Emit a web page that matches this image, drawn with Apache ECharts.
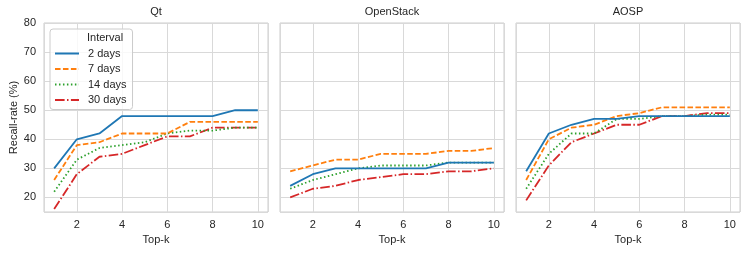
<!DOCTYPE html>
<html>
<head>
<meta charset="utf-8">
<script src="https://cdn.jsdelivr.net/npm/echarts@6/dist/echarts.min.js"></script>
<style>
html,body{margin:0;padding:0;background:#fff;}
#chart{width:748px;height:254px;}
</style>
</head>
<body>
<div id="chart"></div>
<script>
// ---- data ----
const topK = [1, 2, 3, 4, 5, 6, 7, 8, 9, 10];
const projects = ['Qt', 'OpenStack', 'AOSP'];
const intervals = ['2 days', '7 days', '14 days', '30 days'];

const qt2  = [30, 40, 42, 48, 48, 48, 48, 48, 50, 50];
const qt7  = [26, 38, 39, 42, 42, 42, 46, 46, 46, 46];
const qt14 = [22, 33, 37, 38, 39, 42, 43, 43, 44, 44];
const qt30 = [16, 28, 34, 35, 38, 41, 41, 44, 44, 44];

const os2  = [24, 28, 30, 30, 30, 30, 30, 32, 32, 32];
const os7  = [29, 31, 33, 33, 35, 35, 35, 36, 36, 37];
const os14 = [23, 26, 28, 30, 31, 31, 31, 32, 32, 32];
const os30 = [20, 23, 24, 26, 27, 28, 28, 29, 29, 30];

const aosp2  = [29, 42, 45, 47, 47, 48, 48, 48, 48, 48];
const aosp7  = [26, 40, 44, 45, 48, 49, 51, 51, 51, 51];
const aosp14 = [23, 35, 42, 42, 47, 47, 48, 48, 48.5, 48.5];
const aosp30 = [19, 31, 39, 42, 45, 45, 48, 48, 49, 49];

const yTicks = [20, 30, 40, 50, 60, 70, 80];
const xTicks = [2, 4, 6, 8, 10];

const panelData = [
  [qt2, qt7, qt14, qt30],
  [os2, os7, os14, os30],
  [aosp2, aosp7, aosp14, aosp30]
];

// ---- styles ----
const colors = ['#1f77b4', '#ff7f0e', '#2ca02c', '#d62728'];
const dashes = ['solid', [5.55, 2.4], [1.5, 2.475], [9.6, 2.4, 1.5, 2.4]];
const FONT = '"Liberation Sans", Arial, sans-serif';
const TXT = '#262626';
const GRIDC = '#d9d9d9';
const BORDERC = '#cccccc';

const gridLefts = [44, 280, 516];
const gridW = 224;
const gridTop = 23;
const gridH = 189;

const grids = [], xAxes = [], yAxes = [], series = [], titles = [];

projects.forEach((p, i) => {
  grids.push({
    left: gridLefts[i], top: gridTop, width: gridW, height: gridH,
    show: true, borderColor: BORDERC, borderWidth: 1, backgroundColor: 'transparent'
  });
  xAxes.push({
    type: 'value', gridIndex: i, min: 0.55, max: 10.45, splitNumber: 5,
    name: 'Top-k', nameLocation: 'middle', nameGap: 22,
    nameTextStyle: {fontFamily: FONT, fontSize: 11, color: TXT},
    axisLine: {show: false}, axisTick: {show: false},
    axisLabel: {
      fontFamily: FONT, fontSize: 11, color: TXT, margin: 7,
      showMinLabel: false, showMaxLabel: false,
      formatter: v => (xTicks.indexOf(Math.round(v * 100) / 100) >= 0 ? String(v) : '')
    },
    splitLine: {show: true, lineStyle: {color: GRIDC, width: 1}}
  });
  yAxes.push({
    type: 'value', gridIndex: i, min: 15, max: 80, splitNumber: 5,
    name: i === 0 ? 'Recall-rate (%)' : '', nameLocation: 'middle', nameGap: 25,
    nameTextStyle: {fontFamily: FONT, fontSize: 11, color: TXT},
    axisLine: {show: false}, axisTick: {show: false},
    axisLabel: {
      show: i === 0, fontFamily: FONT, fontSize: 11, color: TXT, margin: 8,
      showMinLabel: false,
      formatter: v => (yTicks.indexOf(Math.round(v * 100) / 100) >= 0 ? String(v) : '')
    },
    splitLine: {show: true, lineStyle: {color: GRIDC, width: 1}}
  });
  titles.push({
    text: p, left: gridLefts[i] + gridW / 2, top: 6, textAlign: 'center', padding: 0,
    textStyle: {fontFamily: FONT, fontSize: 11, fontWeight: 'normal', color: TXT}
  });
  intervals.forEach((name, j) => {
    series.push({
      type: 'line', name: name, xAxisIndex: i, yAxisIndex: i,
      data: topK.map((k, idx) => [k, panelData[i][j][idx]]),
      symbol: 'none', showSymbol: false, legendIcon: 'none',
      lineStyle: {color: colors[j], width: 1.8, type: dashes[j]},
      itemStyle: {color: colors[j]},
      z: 3 + (4 - j) * 0.1
    });
  });
});

titles.push({
  text: 'Interval', left: 87, top: 32, padding: 0,
  textStyle: {fontFamily: FONT, fontSize: 11, fontWeight: 'normal', color: TXT}
});

const chart = echarts.init(document.getElementById('chart'), null, {renderer: 'canvas'});
chart.setOption({
  animation: false,
  backgroundColor: '#ffffff',
  title: titles,
  grid: grids,
  xAxis: xAxes,
  yAxis: yAxes,
  legend: {
    data: intervals, orient: 'vertical', left: 50, top: 29,
    padding: [19, 6, 4, 4], itemWidth: 24, itemHeight: 12, itemGap: 4.5,
    backgroundColor: 'rgba(255,255,255,0.8)', borderColor: BORDERC, borderWidth: 1, borderRadius: 3,
    itemStyle: {opacity: 0},
    textStyle: {fontFamily: FONT, fontSize: 11, color: TXT, padding: [0, 0, 0, 4]},
    selectedMode: false
  },
  series: series
});
</script>
</body>
</html>
